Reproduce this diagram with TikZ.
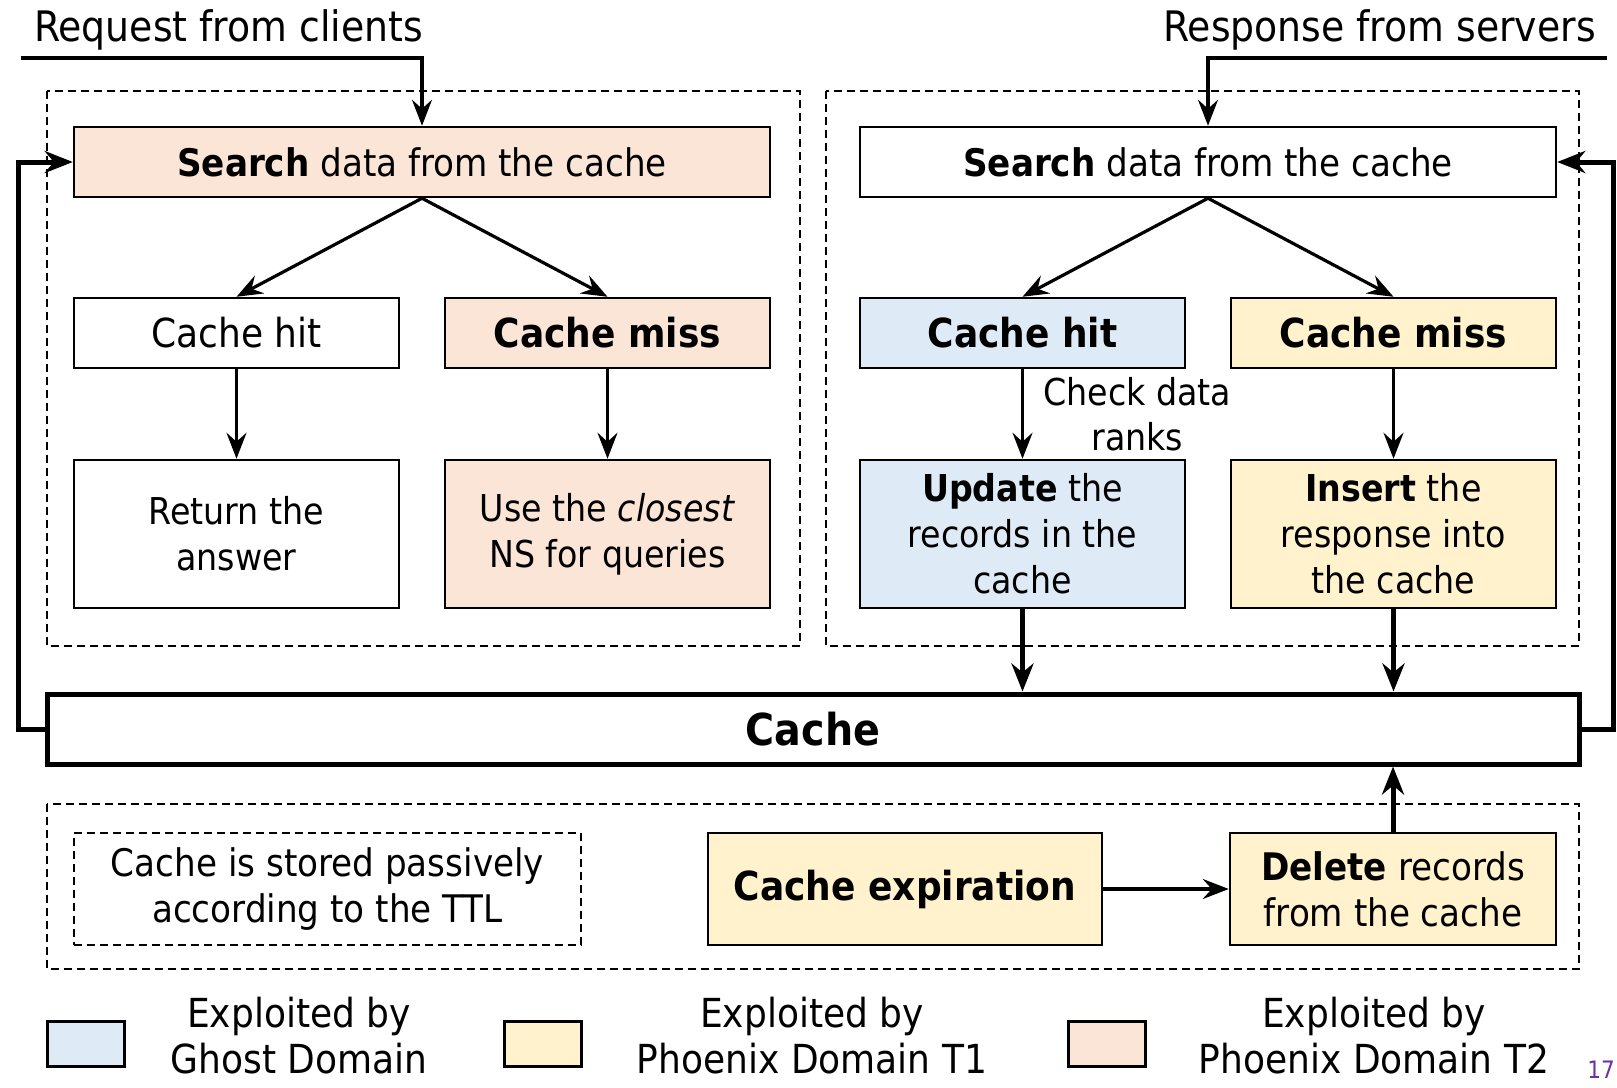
\documentclass[tikz,border=0pt]{standalone}
\usepackage{fontspec}
\setmainfont{DejaVu Sans Condensed}
\usepackage{xcolor}
\usepackage{tikz}
\usetikzlibrary{arrows.meta, positioning}
\definecolor{ghostblue}{HTML}{DEEBF7}
\definecolor{phxyellow}{HTML}{FFF2CC}
\definecolor{phxorange}{HTML}{FBE5D6}
\definecolor{pagepurple}{HTML}{7030A0}
\tikzset{
    box/.style={rectangle, draw=black, line width=2.5pt, fill=white, align=center, inner sep=0pt, font=\fontsize{38}{46}\selectfont},
    wide/.style={box, minimum width=696pt, minimum height=70pt},
    half/.style={box, minimum width=325pt, minimum height=70pt, font=\fontsize{40}{46}\selectfont},
    tall/.style={box, minimum width=325pt, minimum height=148pt, font=\fontsize{37}{46}\selectfont},
    ghost/.style={fill=ghostblue},
    phxone/.style={fill=phxyellow},
    phxtwo/.style={fill=phxorange},
    group/.style={draw=black, line width=2.2pt, dash pattern=on 8pt off 5pt},
    arrow/.style={-{Stealth[length=26pt, width=20pt, inset=9pt]}, line width=3.2pt},
    bigarrow/.style={-{Stealth[length=28pt, width=22pt, inset=9pt]}, line width=5pt},
    label/.style={font=\fontsize{42}{48}\selectfont, inner sep=0pt},
    legend/.style={rectangle, draw=black, line width=3pt, minimum width=77pt, minimum height=45pt, inner sep=0pt}
}

\begin{document}
\begin{tikzpicture}[x=1pt, y=-1pt]
    \useasboundingbox (0,0) rectangle (1617,1087);

    % Groups
    \draw[group] (47,91) rectangle (800,646);
    \draw[group] (826,91) rectangle (1579,646);
    \draw[group] (47,804) rectangle (1579,969);

    % Inputs
    \node[label, anchor=west] (req) at (34,30) {Request from clients};
    \node[label, anchor=east] (resp) at (1596,30) {Response from servers};

    % Left side: request
    \node[wide, phxtwo] (srchL) at (422,162) {\textbf{Search} data from the cache};
    \node[half] (hitL) at (236.5,333) {Cache hit};
    \node[half, phxtwo] (missL) at (607.5,333) {\textbf{Cache miss}};
    \node[tall] (retL) at (236.5,534) {Return the\\answer};
    \node[tall, phxtwo] (nsL) at (607.5,534) {Use the \textit{closest}\\NS for queries};

    % Right side: response
    \node[wide] (srchR) at (1208,162) {\textbf{Search} data from the cache};
    \node[half, ghost] (hitR) at (1022.5,333) {\textbf{Cache hit}};
    \node[half, phxone] (missR) at (1393.5,333) {\textbf{Cache miss}};
    \node[tall, ghost] (updR) at (1022.5,534) {\textbf{Update} the\\records in the\\cache};
    \node[tall, phxone] (insR) at (1393.5,534) {\textbf{Insert} the\\response into\\the cache};

    % Cache
    \node[box, line width=5pt, minimum width=1532pt, minimum height=70pt, font=\fontsize{44}{50}\selectfont\bfseries] (cache) at (813,729) {Cache};

    % Expiration
    \node[box, group, minimum width=507pt, minimum height=112pt] (passive) at (327.5,889) {Cache is stored passively\\according to the TTL};
    \node[box, phxone, minimum width=394pt, minimum height=112pt, font=\fontsize{40}{46}\selectfont\bfseries] (expire) at (905,889) {Cache expiration};
    \node[box, phxone, minimum width=326pt, minimum height=112pt] (delete) at (1393,889) {\textbf{Delete} records\\from the cache};

    % Connectors
    \coordinate (inL) at (21,58);
    \coordinate (inR) at (1607,58);
    \draw[arrow] (inL) -| (srchL.north);
    \draw[arrow] (inR) -| (srchR.north);
    \draw[arrow] (srchL.south) -- (hitL.north);
    \draw[arrow] (srchL.south) -- (missL.north);
    \draw[arrow] (srchR.south) -- (hitR.north);
    \draw[arrow] (srchR.south) -- (missR.north);
    \draw[arrow] (hitL) -- (retL);
    \draw[arrow] (missL) -- (nsL);
    \draw[arrow] (hitR) -- node[right=16pt, font=\fontsize{37}{45}\selectfont, align=center] {Check data\\ranks} (updR);
    \draw[arrow] (missR) -- (insR);
    \draw[bigarrow] (updR.south) -- (updR.south |- cache.north);
    \draw[bigarrow] (insR.south) -- (insR.south |- cache.north);
    \draw[bigarrow] (delete.north) -- (delete.north |- cache.south);
    \draw[arrow] (expire) -- (delete);

    % Loops back to search
    \draw[bigarrow] (cache.west) -- ++(-26,0) |- (srchL.west);
    \draw[bigarrow] (cache.east) -- ++(32,0) |- (srchR.east);

    % Legend
    \node[legend, fill=ghostblue] (legG) at (85.5,1043.5) {};
    \node[label, font=\fontsize{40}{46}\selectfont, align=center] (txtG) at (299,1036) {Exploited by\\Ghost Domain};
    \node[legend, fill=phxyellow] (legT1) at (542.5,1043.5) {};
    \node[label, font=\fontsize{40}{46}\selectfont, align=center] (txtT1) at (812,1036) {Exploited by\\Phoenix Domain T1};
    \node[legend, fill=phxorange] (legT2) at (1106.5,1043.5) {};
    \node[label, font=\fontsize{40}{46}\selectfont, align=center] (txtT2) at (1374,1036) {Exploited by\\Phoenix Domain T2};
    \node[anchor=east, inner sep=0pt, text=pagepurple, font=\fontsize{24}{26}\selectfont] (page) at (1615,1070) {17};
\end{tikzpicture}
\end{document}
